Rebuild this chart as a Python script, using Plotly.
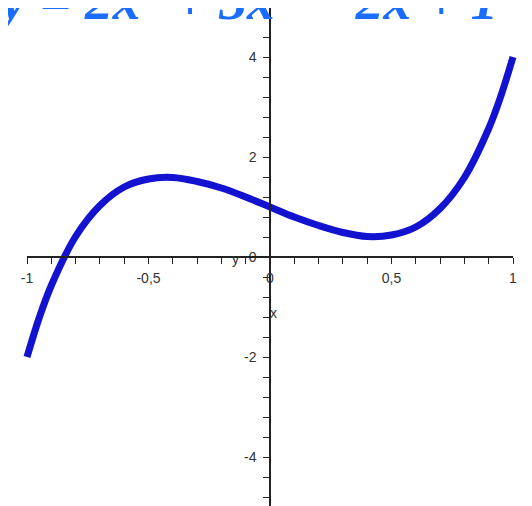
"""Maple-style plot of y = 2x^5 + 3x^3 - 2x + 1 on [-1, 1]."""

import plotly.graph_objects as go

# Points
x_vals = [-1.0, -0.95, -0.9, -0.8, -0.7, -0.6, -0.5, -0.4, -0.3, -0.2, -0.1,
          0.0, 0.1, 0.2, 0.3, 0.4, 0.5, 0.6, 0.7, 0.8, 0.9, 0.95, 1.0]
y_vals = [-2.0, -1.22, -0.57, 0.41, 1.03, 1.40, 1.56, 1.59, 1.51, 1.38, 1.20,
          1.0, 0.80, 0.63, 0.49, 0.41, 0.44, 0.60, 0.97, 1.59, 2.57, 3.22, 4.0]

x_ticks = [-1, -0.5, 0, 0.5, 1]
x_labels = ["-1", "-0,5", "0", "0,5", "1"]
y_ticks = [-4, -2, 0, 2, 4]
y_labels = ["-4", "-2", "0", "2", "4"]

# the page puts the figure 8px in from the window corner
OFFSET = 8
W, H = 532 - OFFSET, 506 - OFFSET
X0_PX, Y0_PX = 270 - OFFSET, 257 - OFFSET   # origin, in figure pixels
PX_PER_X, PX_PER_Y = 243, 50

CURVE = "#1212d0"
AXIS = "#222222"
TICK_FONT = dict(family="Liberation Sans, Arial, sans-serif", size=14, color="#333333")


def px(x, y):
    """Figure pixel -> paper fraction."""
    return x / W, (H - y) / H


fig = go.Figure()

fig.add_trace(
    go.Scatter(
        x=x_vals,
        y=y_vals,
        mode="lines",
        line=dict(color=CURVE, width=7, shape="spline", smoothing=1.0),
        hoverinfo="skip",
        showlegend=False,
    )
)

# invisible trace so the visible x axis gets its own subplot
fig.add_trace(
    go.Scatter(
        x=[x_ticks[0], x_ticks[-1]],
        y=[0, 0],
        xaxis="x2",
        yaxis="y",
        mode="lines",
        line=dict(width=0),
        hoverinfo="skip",
        showlegend=False,
    )
)

x_lo = -X0_PX / PX_PER_X
x_hi = (W - X0_PX) / PX_PER_X
y_hi = Y0_PX / PX_PER_Y
y_lo = -(H - Y0_PX) / PX_PER_Y

fig.update_layout(
    template="none",
    width=W,
    height=H,
    margin=dict(l=0, r=0, t=0, b=0, pad=0),
    paper_bgcolor="white",
    plot_bgcolor="rgba(0,0,0,0)",
    showlegend=False,
    xaxis=dict(domain=[0, 1], range=[x_lo, x_hi], visible=False, automargin=False),
    xaxis2=dict(
        domain=[(X0_PX - PX_PER_X) / W, (X0_PX + PX_PER_X) / W],
        range=[-1, 1],
        anchor="free",
        position=(H - Y0_PX) / H,
        automargin=False,
        showgrid=False,
        zeroline=False,
        showline=True,
        linecolor=AXIS,
        linewidth=1.5,
        ticks="outside",
        ticklen=6,
        tickwidth=1.2,
        tickcolor=AXIS,
        tickvals=x_ticks,
        ticktext=x_labels,
        ticklabelstandoff=2,
        tickfont=TICK_FONT,
        minor=dict(dtick=0.1, tick0=0, ticks="outside", ticklen=6,
                   tickwidth=1.2, tickcolor=AXIS, showgrid=False),
    ),
    yaxis=dict(
        domain=[0, 1],
        range=[y_lo, y_hi],
        anchor="free",
        position=X0_PX / W,
        automargin=False,
        showgrid=False,
        zeroline=False,
        showline=True,
        linecolor=AXIS,
        linewidth=1.5,
        ticks="outside",
        ticklen=6,
        tickwidth=1.2,
        tickcolor=AXIS,
        tickvals=y_ticks,
        ticktext=y_labels,
        ticklabelstandoff=4,
        tickfont=TICK_FONT,
        minor=dict(dtick=0.4, tick0=0, ticks="outside", ticklen=6,
                   tickwidth=1.2, tickcolor=AXIS, showgrid=False),
    ),
)

# axis names placed as Maple does, next to the origin
ax, ay = px(235 - OFFSET, 259 - OFFSET)
fig.add_annotation(text="y", x=ax, y=ay, xref="paper", yref="paper",
                   showarrow=False, font=TICK_FONT)
ax, ay = px(273 - OFFSET, 313 - OFFSET)
fig.add_annotation(text="x", x=ax, y=ay, xref="paper", yref="paper",
                   showarrow=False, font=TICK_FONT)

# big title, cut off by the top of the picture
tx, ty = px(-7 - OFFSET, -4 - OFFSET)
fig.add_annotation(
    text="y = 2x<sup>5</sup> + 3x<sup>3</sup> − 2x + 1",
    x=tx, y=ty, xref="paper", yref="paper",
    xanchor="left", yanchor="middle",
    showarrow=False,
    font=dict(family="Liberation Serif, Times New Roman, serif", size=55.5,
              color="#1a6dff", weight="bold", style="italic"),
)

fig.write_html("out.html")
